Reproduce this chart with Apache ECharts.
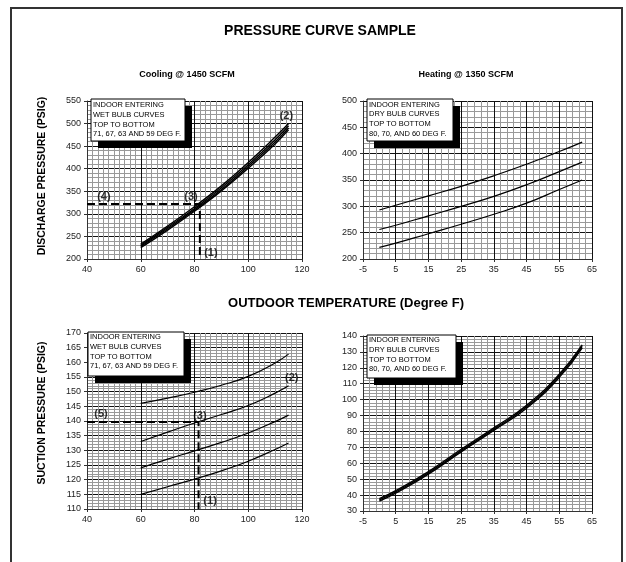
<!DOCTYPE html>
<html>
<head>
<meta charset="utf-8">
<script src="https://cdn.jsdelivr.net/npm/echarts@6/dist/echarts.min.js"></script>
<style>
  html, body { margin: 0; padding: 0; background: #fff; }
  #chart { width: 626px; height: 562px; }
</style>
</head>
<body>
<div id="chart"></div>
<script>
// cooling curves (outdoor temp, deg F)
const coolX = [60, 70, 80, 90, 100, 110, 115];
// discharge pressure, indoor wet bulb 71 / 67 / 63 / 59
const coolDis71 = [233, 273, 316, 362, 414, 470, 500];
const coolDis67 = [230, 270, 312, 358, 409, 464, 495];
const coolDis63 = [228, 267, 309, 354, 405, 459, 490];
const coolDis59 = [225, 264, 306, 351, 401, 455, 486];
// suction pressure, indoor wet bulb 71 / 67 / 63 / 59
const coolSuc71 = [146, 147.8, 149.8, 152.2, 155.2, 159.8, 162.8];
const coolSuc67 = [133, 136.2, 139.3, 142.2, 145.3, 149.5, 152];
const coolSuc63 = [124, 127, 129.8, 132.7, 135.9, 139.8, 142];
const coolSuc59 = [115, 117.6, 120.2, 123, 126.3, 130.3, 132.5];

// heating curves
const heatX = [0, 5, 15, 25, 35, 45, 55, 62];
// discharge pressure, indoor dry bulb 80 / 70 / 60
const heatDis80 = [293, 302, 320, 338, 358, 380, 404, 422];
const heatDis70 = [256, 264, 282, 300, 319, 341, 366, 384];
const heatDis60 = [222, 230, 248, 266, 285, 306, 332, 350];
// suction pressure, indoor dry bulb 80 / 70 / 60
const heatSuc80 = [37.8, 42.8, 54.8, 68.8, 82.3, 96.4, 116, 134.4];
const heatSuc70 = [37, 42, 54, 68, 81.5, 95.5, 115, 133.5];
const heatSuc60 = [36.2, 41.2, 53.2, 67.2, 80.7, 94.6, 114, 132.6];

// example reading (dashed lines)
const disReadX = [40, 82, 82];
const disReadY = [322, 322, 200];
const sucReadX = [40, 81.5, 81.5];
const sucReadY = [139.7, 139.7, 110];

// callouts [x, y, text]
const disCallouts = [[114.2, 516, '(2)'], [78.7, 337, '(3)'], [46.3, 337, '(4)'], [86.1, 214, '(1)']];
const sucCallouts = [[116.2, 154.8, '(2)'], [82, 141.8, '(3)'], [45.2, 142.3, '(5)'], [85.8, 112.6, '(1)']];

const coolNote = ['INDOOR ENTERING', 'WET BULB CURVES', 'TOP TO BOTTOM', '71, 67, 63 AND 59 DEG F.'];
const heatNote = ['INDOOR ENTERING', 'DRY BULB CURVES', 'TOP TO BOTTOM', '80, 70, AND 60 DEG F.'];

const FONT = 'Liberation Sans, Arial, sans-serif';
const zip = (xs, ys) => xs.map((x, i) => [x, ys[i]]);

const chart = echarts.init(document.getElementById('chart'));

function axis(gridIndex, min, max, interval, minorSplit) {
  return {
    type: 'value',
    gridIndex: gridIndex,
    min: min,
    max: max,
    interval: interval,
    axisLine: { show: true, onZero: false, lineStyle: { color: '#333', width: 1 } },
    axisTick: { show: true, length: 3, lineStyle: { color: '#333' } },
    axisLabel: { fontSize: 9, color: '#222', margin: 6, fontFamily: FONT },
    splitLine: { show: true, lineStyle: { color: '#111', width: 1 } },
    minorTick: { show: false, splitNumber: minorSplit },
    minorSplitLine: { show: true, lineStyle: { color: '#999', width: 1 } }
  };
}

function curve(idx, xs, ys, width, color) {
  return {
    type: 'line', xAxisIndex: idx, yAxisIndex: idx,
    data: zip(xs, ys), smooth: true, symbol: 'none', z: 3,
    lineStyle: { color: color, width: width }
  };
}

function dashed(idx, xs, ys) {
  return {
    type: 'line', xAxisIndex: idx, yAxisIndex: idx,
    data: zip(xs, ys), symbol: 'none', z: 4,
    lineStyle: { color: '#000', width: 2, type: [8, 4] }
  };
}

function callouts(idx, list) {
  return {
    type: 'scatter', xAxisIndex: idx, yAxisIndex: idx,
    data: list, symbolSize: 1, z: 6,
    itemStyle: { color: 'rgba(0,0,0,0)' },
    label: {
      show: true, position: 'inside', formatter: p => p.value[2],
      fontSize: 11, fontWeight: 'bold', color: '#000', fontFamily: FONT
    }
  };
}

function noteBox(x, y, w, h, lines, lineY) {
  const els = [
    { type: 'rect', z: 100, shape: { x: x + 7, y: y + 7, width: w, height: h }, style: { fill: '#000' } },
    { type: 'rect', z: 101, shape: { x: x, y: y, width: w, height: h }, style: { fill: '#fff', stroke: '#000', lineWidth: 1 } }
  ];
  lines.forEach((t, i) => {
    els.push({
      type: 'text', z: 102,
      style: {
        text: t, x: x + 2, y: y + lineY + i * 9.8,
        font: '7.5px ' + FONT, fill: '#000', textVerticalAlign: 'middle'
      }
    });
  });
  return els;
}

function label(text, x, y, size, rotate) {
  return {
    type: 'text', z: 102, x: x, y: y, rotation: rotate ? Math.PI / 2 : 0,
    style: {
      text: text, x: 0, y: 0, font: 'bold ' + size + 'px ' + FONT, fill: '#000',
      textAlign: 'center', textVerticalAlign: 'middle'
    }
  };
}

const option = {
  animation: false,
  backgroundColor: '#fff',
  textStyle: { fontFamily: FONT },
  grid: [
    { left: 87, top: 101, width: 215, height: 158 },
    { left: 363, top: 101, width: 229, height: 158 },
    { left: 87, top: 333, width: 215, height: 176 },
    { left: 363, top: 336, width: 229, height: 175 }
  ],
  xAxis: [
    axis(0, 40, 120, 20, 10),
    axis(1, -5, 65, 10, 5),
    axis(2, 40, 120, 20, 10),
    axis(3, -5, 65, 10, 5)
  ],
  yAxis: [
    axis(0, 200, 550, 50, 5),
    axis(1, 200, 500, 50, 5),
    axis(2, 110, 170, 5, 5),
    axis(3, 30, 140, 10, 5)
  ],
  series: [
    curve(0, coolX, coolDis71, 1.4, '#000'),
    curve(0, coolX, coolDis67, 1.4, '#000'),
    curve(0, coolX, coolDis63, 1.4, '#000'),
    curve(0, coolX, coolDis59, 1.4, '#000'),
    dashed(0, disReadX, disReadY),
    callouts(0, disCallouts),
    curve(1, heatX, heatDis80, 1.2, '#000'),
    curve(1, heatX, heatDis70, 1.2, '#000'),
    curve(1, heatX, heatDis60, 1.2, '#000'),
    curve(2, coolX, coolSuc71, 1.2, '#000'),
    curve(2, coolX, coolSuc67, 1.2, '#000'),
    curve(2, coolX, coolSuc63, 1.2, '#000'),
    curve(2, coolX, coolSuc59, 1.2, '#000'),
    dashed(2, sucReadX, sucReadY),
    callouts(2, sucCallouts),
    curve(3, heatX, heatSuc80, 1.4, '#000'),
    curve(3, heatX, heatSuc70, 1.4, '#000'),
    curve(3, heatX, heatSuc60, 1.4, '#000')
  ],
  graphic: [].concat(
    [{ type: 'rect', z: 100, shape: { x: 11, y: 8, width: 611, height: 620 }, style: { fill: 'none', stroke: '#333', lineWidth: 2 } }],
    noteBox(91, 99, 94, 42, coolNote, 6),
    noteBox(367, 99, 86, 42, heatNote, 5.5),
    noteBox(88, 332, 96, 44, coolNote, 5),
    noteBox(367, 335, 89, 43, heatNote, 5),
    [
      label('PRESSURE CURVE SAMPLE', 320, 31, 14, false),
      label('Cooling @ 1450 SCFM', 187, 75, 9, false),
      label('Heating @ 1350 SCFM', 466, 75, 9, false),
      label('OUTDOOR TEMPERATURE (Degree F)', 346, 303, 13, false),
      label('DISCHARGE PRESSURE (PSIG)', 42, 176, 10.5, true),
      label('SUCTION PRESSURE (PSIG)', 42, 413, 10.5, true)
    ]
  )
};

chart.setOption(option);
</script>
</body>
</html>
